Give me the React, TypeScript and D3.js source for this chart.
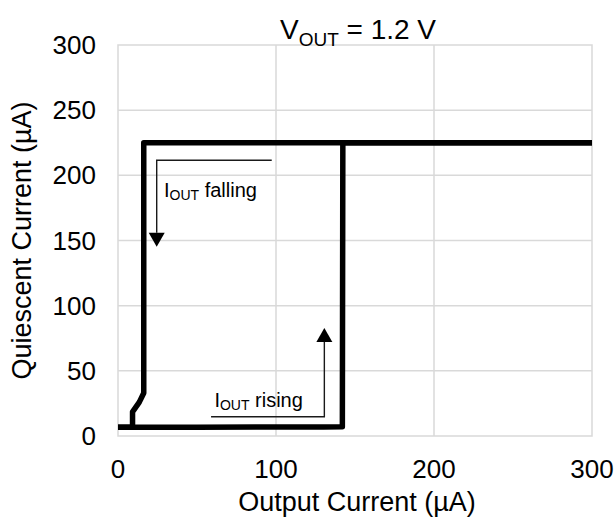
import React, { useEffect, useRef } from "react";
import * as d3 from "d3";

// Hysteresis sweep: I_OUT rising (bottom path) and I_OUT falling (left path)
const risingX = [0, 9, 50, 90, 130, 142, 142.3, 200, 250, 300];
const risingY = [6.7, 6.7, 6.8, 6.9, 7.0, 7.1, 225, 225, 225, 225];

const fallingX = [300, 200, 100, 16.3, 16.3, 13.5, 9.2, 9.2, 0];
const fallingY = [225, 225, 225, 225, 33, 26, 18.5, 6.7, 6.7];

const xTicks = [0, 100, 200, 300];
const yTicks = [0, 50, 100, 150, 200, 250, 300];

const WIDTH = 616;
const HEIGHT = 525;
const FONT = "'Liberation Sans', Arial, sans-serif";

export default function App() {
  const svgRef = useRef<SVGSVGElement>(null);

  useEffect(() => {
    if (!svgRef.current) return;
    const svg = d3.select(svgRef.current);
    svg.selectAll("*").remove();

    const x = d3.scaleLinear().domain([0, 300]).range([118, 592]);
    const y = d3.scaleLinear().domain([0, 300]).range([436, 45]);

    // gridlines
    svg
      .append("g")
      .selectAll("line")
      .data(yTicks.slice(1, -1))
      .enter()
      .append("line")
      .attr("x1", x(0))
      .attr("x2", x(300))
      .attr("y1", (d) => y(d))
      .attr("y2", (d) => y(d))
      .attr("stroke", "#d9d9d9")
      .attr("stroke-width", 1.5);

    svg
      .append("g")
      .selectAll("line")
      .data(xTicks.slice(1, -1))
      .enter()
      .append("line")
      .attr("y1", y(0))
      .attr("y2", y(300))
      .attr("x1", (d) => x(d))
      .attr("x2", (d) => x(d))
      .attr("stroke", "#d9d9d9")
      .attr("stroke-width", 1.5);

    // plot border
    svg
      .append("rect")
      .attr("x", x(0))
      .attr("y", y(300))
      .attr("width", x(300) - x(0))
      .attr("height", y(0) - y(300))
      .attr("fill", "none")
      .attr("stroke", "#d9d9d9")
      .attr("stroke-width", 1.5);

    // tick labels
    svg
      .append("g")
      .selectAll("text")
      .data(yTicks)
      .enter()
      .append("text")
      .attr("x", 96)
      .attr("y", (d) => y(d))
      .attr("dy", "0.35em")
      .attr("text-anchor", "end")
      .attr("font-family", FONT)
      .attr("font-size", 26)
      .attr("fill", "#000")
      .text((d) => d);

    svg
      .append("g")
      .selectAll("text")
      .data(xTicks)
      .enter()
      .append("text")
      .attr("x", (d) => x(d))
      .attr("y", 478)
      .attr("text-anchor", "middle")
      .attr("font-family", FONT)
      .attr("font-size", 26)
      .attr("fill", "#000")
      .text((d) => d);

    // axis titles
    svg
      .append("text")
      .attr("x", (x(0) + x(300)) / 2 + 2)
      .attr("y", 511)
      .attr("text-anchor", "middle")
      .attr("font-family", FONT)
      .attr("font-size", 27)
      .text("Output Current (µA)");

    svg
      .append("text")
      .attr("transform", `translate(31, ${(y(0) + y(300)) / 2}) rotate(-90)`)
      .attr("text-anchor", "middle")
      .attr("font-family", FONT)
      .attr("font-size", 27)
      .text("Quiescent Current (µA)");

    // chart title with subscript
    const title = svg
      .append("text")
      .attr("x", (x(0) + x(300)) / 2 + 3)
      .attr("y", 39)
      .attr("text-anchor", "middle")
      .attr("font-family", FONT)
      .attr("font-size", 28);
    title.append("tspan").text("V");
    title.append("tspan").attr("font-size", 19).attr("dy", 7).text("OUT");
    title.append("tspan").attr("dy", -7).text(" = 1.2 V");

    // curves
    const line = d3
      .line<[number, number]>()
      .x((d) => x(d[0]))
      .y((d) => y(d[1]));

    const rising = risingX.map((v, i) => [v, risingY[i]] as [number, number]);
    const falling = fallingX.map((v, i) => [v, fallingY[i]] as [number, number]);

    [falling, rising].forEach((pts) => {
      svg
        .append("path")
        .datum(pts)
        .attr("d", line)
        .attr("fill", "none")
        .attr("stroke", "#000")
        .attr("stroke-width", 5.5)
        .attr("stroke-linejoin", "round");
    });

    // annotations
    drawArrow(svg, [
      [x(97.3), y(211.6)],
      [x(24.5), y(211.6)],
      [x(24.5), y(145.3)],
    ]);
    drawArrow(svg, [
      [x(58.9), y(14.8)],
      [x(130.6), y(14.8)],
      [x(130.6), y(82.9)],
    ]);

    drawLabel(svg, x(29.1), y(183.3), "falling");
    drawLabel(svg, x(61), y(22.5), "rising");
  }, []);

  return (
    <div style={{ position: "absolute", left: 0, top: 0 }}>
      <svg ref={svgRef} width={WIDTH} height={HEIGHT} style={{ display: "block", background: "#fff" }} />
    </div>
  );
}

// Helper: polyline ending in a filled triangular arrowhead
function drawArrow(
  svg: d3.Selection<SVGSVGElement, unknown, null, undefined>,
  pts: [number, number][]
) {
  const tip = pts[pts.length - 1];
  const prev = pts[pts.length - 2];
  const dir = Math.sign(tip[1] - prev[1]);
  const headH = 14;
  const headW = 8;
  const body = pts.slice(0, -1).concat([[tip[0], tip[1] - dir * headH]]);

  svg
    .append("path")
    .attr("d", d3.line()(body))
    .attr("fill", "none")
    .attr("stroke", "#1a1a1a")
    .attr("stroke-width", 1.4);

  svg
    .append("path")
    .attr(
      "d",
      `M${tip[0]},${tip[1]} L${tip[0] - headW},${tip[1] - dir * headH} L${tip[0] + headW},${tip[1] - dir * headH} Z`
    )
    .attr("fill", "#000");
}

// Helper: "I_OUT <word>" label
function drawLabel(
  svg: d3.Selection<SVGSVGElement, unknown, null, undefined>,
  px: number,
  py: number,
  word: string
) {
  const t = svg
    .append("text")
    .attr("x", px)
    .attr("y", py)
    .attr("font-family", FONT)
    .attr("font-size", 20)
    .attr("fill", "#000");
  t.append("tspan").text("I");
  t.append("tspan").attr("font-size", 14).attr("dy", 3).text("OUT");
  t.append("tspan").attr("dy", -3).text(` ${word}`);
}
